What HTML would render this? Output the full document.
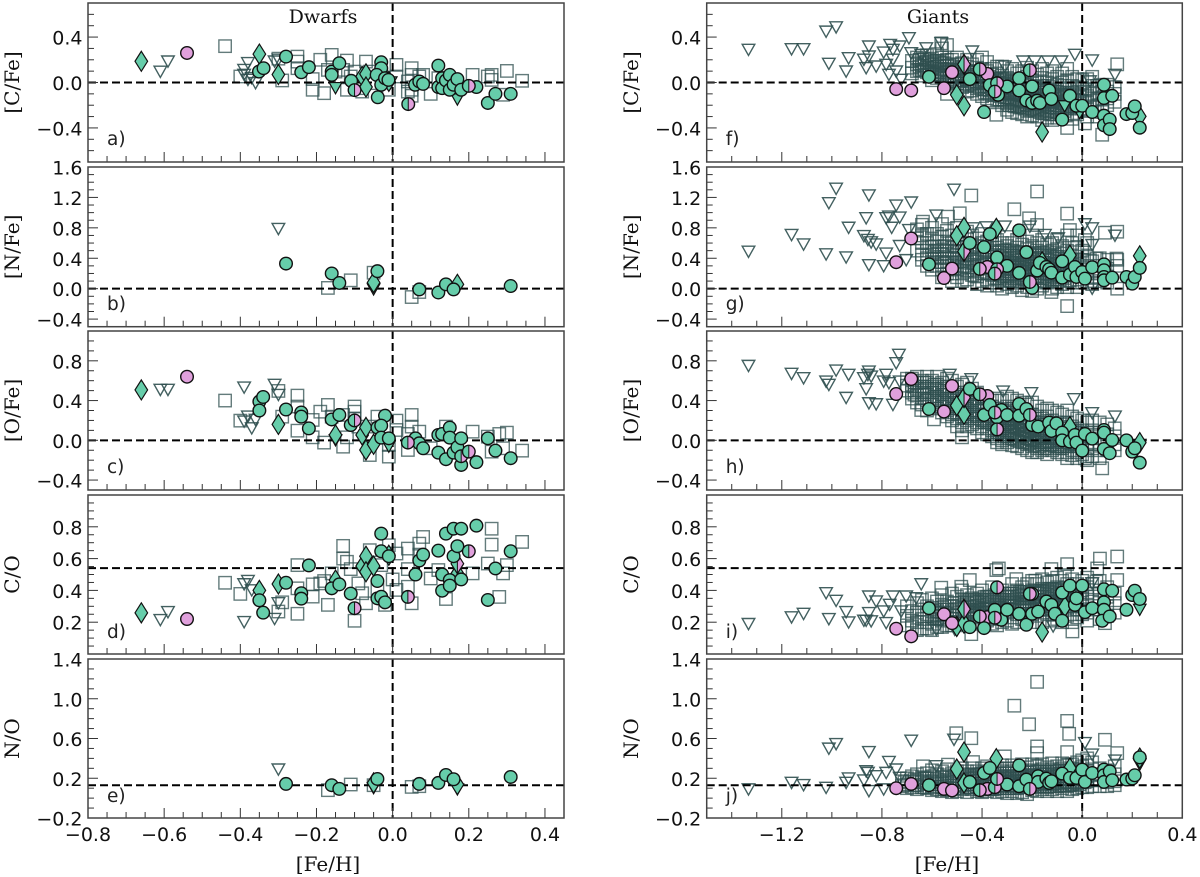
<!DOCTYPE html>
<html lang="en">
<head>
<meta charset="utf-8">
<title>Abundance ratios vs [Fe/H] for dwarfs and giants</title>
<style>
html,body{margin:0;padding:0;background:#fff;width:1200px;height:877px;overflow:hidden}
svg{display:block}
.tk{font-family:"DejaVu Sans","Liberation Sans",sans-serif;font-size:19px;fill:#111}
.lb{font-family:"DejaVu Serif","Liberation Serif",serif;font-size:20px;fill:#111}
.tt{font-family:"DejaVu Serif","Liberation Serif",serif;font-size:19px;fill:#111}
.pl{font-family:"DejaVu Sans","Liberation Sans",sans-serif;font-size:18.5px;fill:#222}
</style>
</head>
<body>
<svg id="figure" xmlns="http://www.w3.org/2000/svg" width="1200" height="877" viewBox="0 0 1200 877"></svg>
<script>
// ---------- tick labels ----------
const dwarfXTicks = [-0.8,-0.6,-0.4,-0.2,0,0.2,0.4];
const giantXTicks = [-1.2,-0.8,-0.4,0,0.4];
const cfeTicks = [-0.4,0,0.4];
const nfeTicks = [-0.4,0,0.4,0.8,1.2,1.6];
const ofeTicks = [-0.4,0,0.4,0.8];
const coTicks = [0.2,0.4,0.6,0.8];
const noTicks = [-0.2,0.2,0.6,1.0,1.4];

// ---------- panel a ----------
const a_squares = [[-.44,.32],[-.4,.053],[-.29,.018],[-.3,.21],[-.25,.228],[-.25,.184],[-.25,.126],[-.21,.03],[-.21,-.064],[-.19,.2],[-.18,-.094],[-.17,.111],[-.16,.243],[-.15,.096],[-.13,.111],[-.12,.193],[-.12,-.064],[-.11,.053],[-.1,.096],[-.09,-.05],[-.08,-.08],[-.07,.184],[-.06,.096],[-.05,-.006],[-.03,.067],[-.01,-.064],[.01,.155],[.01,.053],[.04,.009],[.05,.126],[.05,.067],[.04,-.08],[.05,-.117],[.07,.053],[.08,.067],[.1,-.1],[.21,.067],[.25,.053],[.26,.067],[.26,.023],[.29,-.108],[.3,.102],[.34,.015],[.05,-.064],[.12,.038]];
const a_triangles = [[-.61,.094],[-.59,.184],[-.39,.11],[-.38,.17],[-.39,.067],[-.38,.023],[-.37,.038],[-.36,-.006],[-.31,.184],[-.3,.2]];
const a_circles = [[-.351,.096],[-.339,.126],[-.28,.228],[-.24,.09],[-.22,.135],[-.16,.096],[-.16,.067],[-.14,.17],[-.109,.015],[-.039,-.13],[-.03,.178],[-.03,.126],[-.042,.067],[-.03,-.02],[-.02,.038],[-.011,.023],[.059,-.02],[.07,.009],[.08,-.012],[.12,.149],[.12,-.04],[.13,.038],[.13,-.05],[.14,.018],[.15,.067],[.15,-.064],[.16,-.02],[.17,.03],[.18,-.064],[.22,-.04],[.25,-.18],[.27,-.1],[.31,-.1]];
const a_pink = [[-.54,.26]];
const a_half = [[-.1,-.067],[.041,-.19],[.2,-.03]];
const a_diamonds = [[-.66,.187],[-.35,.25],[-.3,.07],[-.08,.053],[-.07,.076],[-.07,-.04],[-.01,.01]];
const a_halfDiamonds = [];
const a_filledTri = [[-.15,-.05],[.17,-.15],[-.005,0]];

// ---------- panel b ----------
const b_squares = [[-.17,.01],[-.11,.11],[-.05,.21],[.05,-.11],[.07,-.044]];
const b_triangles = [[-.3,.784]];
const b_circles = [[-.28,.33],[-.16,.2],[-.14,.075],[-.04,.23],[.07,-.01],[.12,-.05],[.14,.057],[.16,-.01],[.31,.035]];
const b_pink = [];
const b_half = [];
const b_diamonds = [[-.05,.08],[.17,.057]];
const b_halfDiamonds = [];
const b_filledTri = [[-.05,-.01]];

// ---------- panel c ----------
const c_squares = [[-.44,.4],[-.4,.198],[-.3,.497],[-.29,.238],[-.25,.45],[-.25,.34],[-.25,.097],[-.21,.205],[-.21,.03],[-.19,.288],[-.18,-.023],[-.17,.356],[-.16,.238],[-.13,-.064],[-.13,.255],[-.12,.03],[-.1,.34],[-.1,.288],[-.1,.22],[-.09,.138],[-.06,-.148],[-.05,.138],[-.04,.238],[-.01,-.164],[-.01,-.047],[.01,.198],[.01,.104],[.04,-.097],[.05,.255],[.05,.138],[.04,.064],[.07,.087],[.1,-.08],[.14,.138],[.21,.087],[.26,-.114],[.28,.064],[.3,.077],[.29,-.08],[.34,-.104],[.25,.037]];
const c_triangles = [[-.61,.507],[-.59,.507],[-.39,.53],[-.31,.557],[-.3,.456],[-.39,.188],[-.38,.238],[-.37,.12],[-.36,.205]];
const c_circles = [[-.35,.39],[-.34,.436],[-.35,.3],[-.28,.31],[-.24,.28],[-.24,.238],[-.22,.12],[-.16,.21],[-.14,.255],[-.11,.154],[-.04,.128],[-.02,.248],[-.03,.148],[-.03,.027],[-.01,.02],[.06,.02],[.07,-.03],[.08,-.08],[.12,.054],[.13,.064],[.12,-.124],[.14,-.19],[.15,.128],[.15,.027],[.16,-.124],[.17,-.07],[.18,.02],[.18,-.248],[.22,-.22],[.25,.02],[.27,-.104],[.31,-.18]];
const c_pink = [[-.54,.64]];
const c_half = [[.18,-.16],[-.1,.2],[.04,-.023],[.2,-.114]];
const c_diamonds = [[-.66,.507],[-.3,.16],[-.15,.054],[-.08,.054],[-.07,.13],[-.07,-.097],[-.05,-.04]];
const c_halfDiamonds = [];
const c_filledTri = [[-.15,0],[-.01,-.064]];

// ---------- panel d ----------
const d_squares = [[-.44,.448],[-.4,.378],[-.29,.325],[-.3,.267],[-.25,.559],[-.25,.413],[-.25,.253],[-.21,.438],[-.21,.361],[-.19,.444],[-.18,.459],[-.17,.309],[-.16,.507],[-.13,.68],[-.13,.6],[-.12,.58],[-.11,.534],[-.1,.209],[-.09,.444],[-.08,.382],[-.07,.319],[-.06,.653],[-.04,.403],[-.03,.559],[-.02,.309],[-.01,.684],[0,.469],[.01,.632],[.01,.403],[.04,.663],[.04,.534],[.04,.423],[.05,.319],[.07,.625],[.08,.736],[.07,.694],[.1,.475],[.12,.528],[.14,.346],[.21,.507],[.25,.569],[.26,.788],[.26,.688],[.28,.359],[.29,.507],[.3,.559],[.34,.705]];
const d_triangles = [[-.61,.213],[-.59,.263],[-.39,.2],[-.39,.438],[-.38,.459],[-.31,.22],[-.3,.319],[-.37,.4]];
const d_circles = [[-.34,.26],[-.35,.338],[-.28,.448],[-.24,.382],[-.24,.348],[-.22,.557],[-.16,.413],[-.14,.438],[-.11,.38],[-.04,.459],[-.04,.35],[-.03,.757],[-.03,.646],[-.03,.36],[-.02,.325],[-.01,.615],[.06,.5],[.07,.588],[.08,.625],[.12,.65],[.13,.5],[.13,.398],[.14,.757],[.15,.465],[.15,.43],[.16,.788],[.16,.615],[.17,.678],[.18,.788],[.18,.469],[.22,.807],[.25,.34],[.27,.538],[.31,.646]];
const d_pink = [[-.54,.22]];
const d_half = [[-.1,.288],[.04,.359],[.2,.646]];
const d_diamonds = [[-.66,.259],[-.35,.4],[-.3,.44],[-.15,.465],[-.08,.553],[-.07,.615],[-.07,.517],[-.05,.553],[-.01,.621],[.17,.507]];
const d_halfDiamonds = [[.17,.568]];
const d_filledTri = [];

// ---------- panel e ----------
const e_squares = [[-.17,.08],[-.11,.137],[-.05,.13],[.05,.113],[.07,.12]];
const e_triangles = [[-.3,.287]];
const e_circles = [[-.28,.143],[-.16,.13],[-.14,.093],[-.04,.193],[.07,.143],[.12,.153],[.14,.233],[.16,.19],[.31,.213]];
const e_pink = [];
const e_half = [];
const e_diamonds = [[-.05,.153],[.17,.137]];
const e_halfDiamonds = [];
const e_filledTri = [[-.05,.1],[.17,.087]];

// ---------- panel f ----------
const f_squares = [[-.343,-.284],[-.06,-.4],[.011,-.36],[.08,-.46],[.14,.16],[-.563,.345],[-.54,.33]];
const f_cloud = [[-.68,[.19,.13,.08]],[-.66,[.22,.16,.1]],[-.64,[.2,.15,.11,.06]],[-.62,[.24,.18,.13,.09]],[-.6,[.21,.16,.12,.07,.02]],[-.58,[.25,.19,.14,.09,.04]],[-.56,[.3,.22,.17,.12,.07]],[-.54,[.2,.15,.1,.05,0,-.1]],[-.52,[.2,.16,.11,.06,.01]],[-.5,[.22,.16,.1,.05,-.01,-.05]],[-.48,[.17,.12,.07,.02,-.04]],[-.46,[.2,.14,.09,.03,-.03,-.08]],[-.44,[.16,.1,.05,-.01,-.07]],[-.42,[.2,.13,.07,.01,-.05,-.1]],[-.4,[.22,.12,.06,0,-.06,-.12]],[-.38,[.18,.1,.04,-.03,-.09,-.14]],[-.36,[.12,.07,.01,-.05,-.11,-.16]],[-.34,[.14,.08,.02,-.04,-.1,-.15]],[-.32,[.14,.06,0,-.05,-.1,-.15,-.2]],[-.3,[.1,.04,-.02,-.08,-.13,-.18,-.24]],[-.28,[.12,.03,-.03,-.09,-.14,-.2,-.26]],[-.26,[.08,.02,-.04,-.1,-.15,-.21,-.27]],[-.24,[.1,.03,-.05,-.11,-.16,-.22,-.28]],[-.22,[.13,.05,-.02,-.08,-.14,-.2,-.25,-.3]],[-.2,[.1,.02,-.05,-.11,-.17,-.23,-.29]],[-.18,[.07,0,-.06,-.12,-.18,-.24,-.3]],[-.16,[.12,.04,-.03,-.09,-.15,-.21,-.27,-.33]],[-.14,[.08,0,-.07,-.13,-.19,-.25,-.31]],[-.12,[.1,.03,-.04,-.1,-.16,-.22,-.28,-.33]],[-.1,[.05,-.02,-.08,-.14,-.2,-.26,-.31]],[-.08,[.08,0,-.06,-.12,-.18,-.24,-.29]],[-.06,[.12,.02,-.05,-.11,-.17,-.23,-.28]],[-.04,[.05,-.03,-.09,-.15,-.21,-.27,-.32]],[-.02,[.03,-.04,-.1,-.16,-.22,-.28]],[0,[.02,-.05,-.11,-.17,-.23]],[.02,[.03,-.06,-.12,-.18,-.24,-.3]],[.04,[.05,-.03,-.1,-.16,-.22]],[.06,[-.03,-.09,-.15,-.21,-.3]],[.08,[-.02,-.08,-.14,-.2,-.26]],[.1,[-.02,-.08,-.14,-.2]],[.13,[-.04,-.1,-.17]]];
const f_core = [[-.65,[.2,.17,.14,.11]],[-.63,[.21,.18,.15,.12]],[-.61,[.2,.17,.14,.11,.08]],[-.59,[.19,.16,.13,.1,.07]],[-.57,[.18,.15,.12,.09,.06]],[-.55,[.17,.14,.11,.08,.05]],[-.53,[.15,.12,.09,.06,.03]],[-.51,[.14,.11,.08,.05,.02]],[-.49,[.13,.1,.07,.04,.01]],[-.47,[.11,.08,.05,.02,-.01]],[-.45,[.1,.07,.04,.01,-.02]],[-.43,[.09,.06,.03,0,-.03]],[-.41,[.08,.05,.02,-.01,-.04]],[-.39,[.06,.03,0,-.03,-.06,-.09]],[-.37,[.05,.02,-.01,-.04,-.07,-.1]],[-.35,[.04,.01,-.02,-.05,-.08,-.11]],[-.33,[.03,0,-.03,-.06,-.09,-.12,-.15]],[-.31,[.02,-.01,-.04,-.07,-.1,-.13,-.16]],[-.29,[.01,-.02,-.05,-.08,-.11,-.14,-.17,-.2]],[-.27,[0,-.03,-.06,-.09,-.12,-.15,-.18,-.21]],[-.25,[-.01,-.04,-.07,-.1,-.13,-.16,-.19,-.22]],[-.23,[-.02,-.05,-.08,-.11,-.14,-.17,-.2,-.23]],[-.21,[-.03,-.06,-.09,-.12,-.15,-.18,-.21,-.24]],[-.19,[-.04,-.07,-.1,-.13,-.16,-.19,-.22,-.25]],[-.17,[-.05,-.08,-.11,-.14,-.17,-.2,-.23,-.26]],[-.15,[-.06,-.09,-.12,-.15,-.18,-.21,-.24,-.27]],[-.13,[-.07,-.1,-.13,-.16,-.19,-.22,-.25,-.28]],[-.11,[-.08,-.11,-.14,-.17,-.2,-.23,-.26]],[-.09,[-.09,-.12,-.15,-.18,-.21,-.24,-.27]],[-.07,[-.1,-.13,-.16,-.19,-.22,-.25]],[-.05,[-.11,-.14,-.17,-.2,-.23]],[-.03,[-.12,-.15,-.18,-.21]],[-.01,[-.13,-.16,-.19]]];
const f_triangles = [[-1.333,.287],[-1.161,.292],[-1.113,.292],[-1.023,.447],[-.983,.485],[-1.012,.164],[-.943,.096],[-.933,.213],[-.872,.2],[-.863,.126],[-.852,.316],[-.852,.228],[-.823,.14],[-.793,.263],[-.783,.155],[-.767,.33],[-.772,.067],[-.756,.287],[-.756,.2],[-.743,.096],[-.729,.316],[-.723,.023],[-.692,.389],[-.683,.257],[-.643,.243],[-.623,.3],[-.563,.345],[-.439,.272],[-.309,.14],[-.236,.184],[-.189,.184],[-.136,.184],[-.083,.184],[-.029,.243],[.04,.193],[.131,.067],[.031,.009]];
const f_circles = [[-.612,.05],[-.449,.03],[-.392,-.26],[-.369,-.023],[-.336,-.108],[-.3,-.035],[-.252,.038],[-.252,-.07],[-.223,-.158],[-.2,-.035],[-.2,-.18],[-.18,-.16],[-.169,-.18],[-.132,-.07],[-.123,-.146],[-.08,-.327],[-.049,-.117],[-.023,-.205],[0,-.205],[.04,-.26],[.087,-.02],[.087,-.137],[.087,-.292],[.087,-.377],[.11,-.327],[.11,-.41],[.12,-.117],[.177,-.278],[.2,-.269],[.21,-.21],[.23,-.398]];
const f_pink = [[-.743,-.058],[-.683,-.07],[-.552,-.05],[-.52,.09],[-.379,.076]];
const f_half = [[-.409,.117],[-.34,-.006],[-.349,-.08],[-.209,.108]];
const f_diamonds = [[-.501,-.108],[-.472,-.205],[-.16,-.436],[.23,-.298]];
const f_halfDiamonds = [[-.472,.16]];
const f_filledTri = [[-.07,-.21],[-.01,-.27]];

// ---------- panel g ----------
const g_squares = [[-.443,1.225],[-.18,1.278],[-.271,1.044],[-.06,.987],[-.06,-.229],[-.489,.991],[-.212,.925],[-.18,.837],[-.636,.881],[-.536,.947],[.091,.736],[.14,.749],[.011,.639],[-.049,.771],[-.123,-.044],[.14,0],[.137,.396],[.031,.374],[.057,.396]];
const g_cloud = [[-.66,[.78,.66,.5]],[-.64,[.84,.7,.6,.45,.38]],[-.62,[.72,.6,.5,.4,.3]],[-.6,[.8,.66,.55,.45,.35,.25]],[-.58,[.72,.62,.5,.4,.3]],[-.56,[.85,.68,.55,.45,.35,.25,.15]],[-.54,[.76,.62,.5,.4,.3,.2]],[-.52,[.7,.6,.5,.4,.3,.2,.1]],[-.5,[.8,.65,.55,.45,.35,.25,.15]],[-.48,[.7,.6,.5,.4,.3,.2,.1]],[-.46,[.75,.65,.55,.44,.34,.24,.12]],[-.44,[.7,.58,.48,.38,.28,.18]],[-.42,[.66,.56,.46,.36,.26,.16,.06]],[-.4,[.72,.6,.5,.4,.3,.2,.1]],[-.38,[.62,.52,.42,.32,.22,.12,.04]],[-.36,[.7,.58,.48,.38,.28,.18,.08]],[-.34,[.64,.54,.44,.34,.24,.14,.04]],[-.32,[.6,.5,.4,.3,.2,.1,0]],[-.3,[.68,.56,.46,.36,.26,.16,.06]],[-.28,[.6,.5,.4,.3,.2,.1,.02]],[-.26,[.64,.54,.44,.34,.24,.14,.04]],[-.24,[.58,.48,.38,.28,.18,.08,-.02]],[-.22,[.62,.52,.42,.32,.22,.12,.02]],[-.2,[.7,.56,.46,.36,.26,.16,.06,-.03]],[-.18,[.6,.5,.4,.3,.2,.1,0]],[-.16,[.64,.54,.44,.34,.24,.14,.04]],[-.14,[.58,.48,.38,.28,.18,.08]],[-.12,[.6,.5,.4,.3,.2,.1,0]],[-.1,[.64,.52,.42,.32,.22,.12,.02]],[-.08,[.56,.46,.36,.26,.16,.06]],[-.06,[.7,.5,.4,.3,.2,.1,.02]],[-.04,[.6,.48,.38,.28,.18,.08]],[-.02,[.7,.55,.42,.32,.22,.12,.02]],[0,[.5,.38,.28,.18,.08]],[.02,[.6,.42,.3,.2,.1]],[.04,[.36,.24,.14,.06]],[.07,[.4,.3,.2,.1]],[.1,[.38,.26,.16,.08]],[.14,[.38,.3]]];
const g_core = [[-.59,[.55,.48,.42]],[-.55,[.56,.49,.42,.35]],[-.51,[.55,.48,.41,.34,.27]],[-.47,[.5,.43,.36,.29,.22]],[-.43,[.52,.45,.38,.31,.24,.17]],[-.39,[.48,.41,.34,.27,.2]],[-.35,[.5,.44,.38,.32,.26,.2,.14]],[-.33,[.48,.42,.36,.3,.24,.18,.12]],[-.31,[.5,.44,.38,.32,.26,.2,.14]],[-.29,[.47,.41,.35,.29,.23,.17,.11]],[-.27,[.49,.43,.37,.31,.25,.19,.13]],[-.25,[.46,.4,.34,.28,.22,.16,.1]],[-.23,[.48,.42,.36,.3,.24,.18,.12]],[-.21,[.45,.39,.33,.27,.21,.15,.09]],[-.19,[.47,.41,.35,.29,.23,.17,.11]],[-.17,[.44,.38,.32,.26,.2,.14,.08]],[-.15,[.46,.4,.34,.28,.22,.16,.1]],[-.13,[.43,.37,.31,.25,.19,.13]],[-.11,[.45,.39,.33,.27,.21,.15,.09]],[-.09,[.42,.36,.3,.24,.18,.12]],[-.07,[.38,.32,.26,.2,.14]],[-.05,[.35,.29,.23,.17,.11]],[-.03,[.36,.3,.24,.18]]];
const g_triangles = [[-1.333,.485],[-1.161,.705],[-1.113,.58],[-1.023,.45],[-1.012,1.123],[-.983,1.313],[-.943,.41],[-.933,.8],[-.872,.69],[-.863,.925],[-.852,1.225],[-.852,.308],[-.856,.64],[-.843,.608],[-.823,.58],[-.793,.295],[-.783,.46],[-.783,.925],[-.772,.947],[-.761,.8],[-.743,1.092],[-.729,.934],[-.729,.56],[-.683,1.132],[-.692,.77],[-.703,.374],[-.583,.96],[-.512,1.3],[-.436,.793],[-.383,.806],[-.309,.815],[-.209,.815],[-.149,.705],[-.096,.66],[.011,.846],[.04,.793],[.04,.573],[.131,.696],[.04,0]];
const g_circles = [[-.612,.32],[-.449,.6],[-.392,.546],[-.369,.718],[-.34,.41],[-.3,.3],[-.252,.767],[-.252,.207],[-.223,.48],[-.2,.01],[-.18,.238],[-.169,.339],[-.143,.286],[-.132,.255],[-.123,.21],[-.08,.36],[-.08,.145],[-.049,.185],[-.029,.286],[-.023,.154],[0,.22],[.011,.132],[.04,.282],[.087,.32],[.087,.242],[.087,.154],[.087,.11],[.12,.145],[.177,.154],[.2,.066],[.21,.154],[.23,.273]];
const g_pink = [[-.743,.348],[-.683,.66],[-.552,.14],[-.52,.264],[-.379,.286]];
const g_half = [[-.409,.26],[-.34,.255],[-.349,.198],[-.209,.088]];
const g_diamonds = [[-.501,.696],[-.472,.806],[-.343,.793],[-.16,.352],[-.049,.44],[.23,.432]];
const g_halfDiamonds = [[-.472,.49]];
const g_filledTri = [];

// ---------- panel h ----------
const h_squares = [[-.592,.211],[-.643,.305],[-.48,.03],[.08,-.282],[.011,-.181]];
const h_cloud = [[-.7,[.62,.55,.5]],[-.68,[.62,.56,.48,.42]],[-.66,[.64,.58,.52,.45,.38]],[-.64,[.6,.54,.48,.42,.36]],[-.62,[.64,.58,.52,.46,.4,.3]],[-.6,[.6,.54,.48,.42,.36]],[-.58,[.64,.56,.5,.44,.38,.32]],[-.56,[.58,.52,.46,.4,.34,.28]],[-.54,[.62,.54,.48,.42,.36,.3,.24]],[-.52,[.6,.5,.44,.38,.32,.26,.2]],[-.5,[.54,.46,.4,.34,.28,.22,.14]],[-.48,[.56,.48,.42,.36,.3,.24,.18,.1]],[-.46,[.58,.44,.38,.32,.26,.2,.14]],[-.44,[.52,.46,.4,.34,.28,.22,.16]],[-.42,[.48,.42,.36,.3,.24,.18,.12]],[-.4,[.44,.38,.32,.26,.2,.14,.08]],[-.38,[.42,.36,.3,.24,.18,.12,.06]],[-.36,[.4,.34,.28,.22,.16,.1,.04]],[-.34,[.42,.32,.26,.2,.14,.08,.02,-.02]],[-.32,[.4,.3,.24,.18,.12,.06,0,-.04]],[-.3,[.44,.34,.28,.22,.16,.1,.04,-.02]],[-.28,[.42,.32,.26,.2,.14,.08,.02,-.05]],[-.26,[.4,.3,.24,.18,.12,.06,0,-.06]],[-.24,[.38,.28,.22,.16,.1,.04,-.02,-.08]],[-.22,[.36,.28,.2,.14,.08,.02,-.04,-.1]],[-.2,[.38,.26,.18,.12,.06,0,-.06,-.12]],[-.18,[.34,.24,.16,.1,.04,-.02,-.08,-.12]],[-.16,[.3,.22,.14,.08,.02,-.04,-.1]],[-.14,[.32,.24,.16,.1,.04,-.02,-.08,-.14]],[-.12,[.3,.2,.14,.08,.02,-.04,-.1]],[-.1,[.28,.18,.12,.06,0,-.06,-.12]],[-.08,[.26,.16,.1,.04,-.02,-.08,-.14]],[-.06,[.3,.18,.12,.06,0,-.06,-.12,-.18]],[-.04,[.24,.14,.08,.02,-.04,-.1,-.15]],[-.02,[.22,.12,.06,0,-.06,-.12,-.18]],[0,[.2,.1,.04,-.02,-.08,-.14]],[.02,[.18,.08,.02,-.04,-.1,-.16,-.2]],[.04,[.2,.1,.04,-.02,-.08,-.16]],[.07,[.18,.08,.02,-.04,-.1,-.18]],[.1,[.16,.06,-.02,-.1]],[.13,[.12,.04,-.04,-.1]]];
const h_core = [[-.67,[.58,.54,.5,.46]],[-.63,[.58,.54,.5,.46,.42]],[-.59,[.56,.52,.48,.44,.4]],[-.55,[.54,.5,.46,.42,.38]],[-.51,[.48,.44,.4,.36,.32,.28]],[-.47,[.44,.4,.36,.32,.28,.24]],[-.43,[.42,.38,.34,.3,.26,.22]],[-.39,[.38,.34,.3,.26,.22,.18]],[-.35,[.32,.28,.24,.2,.16,.12,.08]],[-.33,[.3,.26,.22,.18,.14,.1,.06]],[-.31,[.28,.24,.2,.16,.12,.08,.04]],[-.29,[.26,.22,.18,.14,.1,.06,.02]],[-.27,[.25,.21,.17,.13,.09,.05,.01]],[-.25,[.23,.19,.15,.11,.07,.03,-.01]],[-.23,[.22,.18,.14,.1,.06,.02,-.02]],[-.21,[.21,.17,.13,.09,.05,.01,-.03]],[-.19,[.19,.15,.11,.07,.03,-.01,-.05]],[-.17,[.18,.14,.1,.06,.02,-.02,-.06]],[-.15,[.16,.12,.08,.04,0,-.04,-.08]],[-.13,[.15,.11,.07,.03,-.01,-.05]],[-.11,[.14,.1,.06,.02,-.02,-.06]],[-.09,[.12,.08,.04,0,-.04,-.08]],[-.07,[.1,.06,.02,-.02,-.06]],[-.05,[.09,.05,.01,-.03]],[-.03,[.08,.04,0,-.04]]];
const h_triangles = [[-1.333,.748],[-1.161,.668],[-1.113,.624],[-1.023,.59],[-1.012,.557],[-.983,.701],[-.943,.426],[-.933,.658],[-.872,.624],[-.863,.513],[-.852,.691],[-.856,.658],[-.843,.641],[-.852,.372],[-.823,.362],[-.793,.59],[-.783,.658],[-.756,.356],[-.743,.775],[-.732,.859],[-.729,.59],[-.772,.574],[-.529,.658],[-.443,.614],[-.316,.49],[-.203,.473],[-.033,.413],[.04,.272],[.131,.238]];
const h_circles = [[-.612,.315],[-.449,.517],[-.392,.255],[-.369,.356],[-.34,.232],[-.323,.305],[-.3,.255],[-.252,.366],[-.252,.248],[-.223,.315],[-.2,.154],[-.176,.138],[-.132,.178],[-.123,.094],[-.103,.171],[-.08,.077],[-.08,0],[-.049,-.013],[-.029,.054],[-.023,-.023],[0,-.104],[.011,.064],[.04,.017],[.087,.104],[.087,.077],[.087,-.087],[.11,-.13],[.12,.003],[.177,0],[.2,-.114],[.21,-.08],[.23,-.225]];
const h_pink = [[-.743,.466],[-.683,.617],[-.552,.289],[-.52,.547],[-.379,.446]];
const h_half = [[-.409,.463],[-.349,.279],[-.34,.11],[-.209,.255]];
const h_diamonds = [[-.501,.349],[-.472,.262],[-.049,.138],[.23,-.023]];
const h_halfDiamonds = [[-.472,.43]];
const h_filledTri = [[.23,-.047]];

// ---------- panel i ----------
const i_squares = [[-.343,.528],[-.333,.538],[-.123,.534],[-.06,.565],[.06,.538],[.071,.6],[.14,.613],[.14,.465],[-.263,.471],[-.187,.461],[-.563,.417],[-.449,.465],[-.483,.423],[-.443,.125],[-.039,.142],[-.069,.496],[.091,.194],[.057,.455]];
const i_cloud = [[-.7,[.3,.24,.18]],[-.68,[.27,.21,.17]],[-.66,[.32,.26,.2,.15]],[-.64,[.34,.28,.22,.16]],[-.62,[.3,.25,.2,.16]],[-.6,[.35,.29,.24,.19,.15]],[-.58,[.33,.27,.22,.17]],[-.56,[.37,.31,.26,.21,.17]],[-.54,[.33,.28,.23,.18]],[-.52,[.38,.32,.27,.22,.18]],[-.5,[.36,.3,.25,.2]],[-.48,[.4,.34,.29,.24,.19]],[-.46,[.37,.32,.27,.22,.18]],[-.44,[.35,.3,.25,.2]],[-.42,[.38,.33,.28,.23,.19]],[-.4,[.4,.34,.29,.24,.2]],[-.38,[.36,.31,.26,.21]],[-.36,[.42,.33,.28,.23,.19]],[-.34,[.38,.32,.27,.22,.18]],[-.32,[.4,.34,.29,.24,.2]],[-.3,[.36,.31,.26,.21]],[-.28,[.44,.38,.33,.28,.23,.19]],[-.26,[.4,.35,.3,.25,.2]],[-.24,[.42,.37,.32,.27,.22]],[-.22,[.44,.38,.33,.28,.23]],[-.2,[.46,.4,.35,.3,.25,.2]],[-.18,[.44,.39,.34,.29,.24]],[-.16,[.47,.41,.36,.31,.26,.2]],[-.14,[.45,.4,.35,.3,.25]],[-.12,[.46,.41,.36,.31,.26,.21]],[-.1,[.48,.42,.37,.32,.27,.22]],[-.08,[.46,.41,.36,.31,.26,.2]],[-.06,[.44,.39,.34,.29,.24]],[-.04,[.47,.4,.35,.3,.25,.2]],[-.02,[.44,.38,.33,.28,.23]],[0,[.46,.4,.35,.3,.25]],[.02,[.48,.42,.36,.31,.26,.21]],[.04,[.44,.38,.33,.28]],[.07,[.46,.4,.34,.28,.22]],[.1,[.42,.36,.3,.24]],[.13,[.38,.32,.26]]];
const i_core = [[-.59,[.28,.26,.24,.22]],[-.55,[.3,.28,.26,.24,.22]],[-.51,[.32,.3,.28,.26,.24]],[-.47,[.33,.31,.29,.27,.25]],[-.45,[.34,.32,.3,.28,.26]],[-.43,[.34,.32,.3,.28,.26,.24]],[-.41,[.35,.33,.31,.29,.27,.25]],[-.39,[.36,.34,.32,.3,.28,.26]],[-.37,[.36,.34,.32,.3,.28,.26]],[-.35,[.37,.35,.33,.31,.29,.27]],[-.33,[.37,.35,.33,.31,.29,.27]],[-.31,[.38,.36,.34,.32,.3,.28]],[-.29,[.38,.36,.34,.32,.3,.28]],[-.27,[.38,.36,.34,.32,.3,.28]],[-.25,[.39,.37,.35,.33,.31,.29]],[-.23,[.39,.37,.35,.33,.31,.29]],[-.21,[.39,.37,.35,.33,.31,.29]],[-.19,[.4,.38,.36,.34,.32,.3,.28]],[-.17,[.4,.38,.36,.34,.32,.3,.28]],[-.15,[.4,.38,.36,.34,.32,.3,.28]],[-.13,[.41,.39,.37,.35,.33,.31,.29]],[-.11,[.41,.39,.37,.35,.33,.31,.29]],[-.09,[.4,.38,.36,.34,.32,.3]],[-.07,[.4,.38,.36,.34,.32]],[-.05,[.39,.37,.35,.33,.31]],[-.03,[.38,.36,.34,.32,.3]]];
const i_triangles = [[-1.333,.188],[-1.161,.23],[-1.113,.252],[-1.023,.382],[-1.012,.219],[-.983,.334],[-.943,.263],[-.933,.198],[-.872,.209],[-.863,.209],[-.852,.361],[-.852,.257],[-.843,.205],[-.823,.33],[-.793,.267],[-.783,.194],[-.756,.361],[-.769,.309],[-.723,.267],[-.703,.361],[-.643,.438],[-.663,.35],[-.583,.152],[-.509,.152],[-.116,.173],[.04,.444]];
const i_circles = [[-.612,.288],[-.449,.169],[-.392,.163],[-.349,.278],[-.323,.215],[-.3,.278],[-.252,.253],[-.2,.378],[-.223,.184],[-.2,.253],[-.176,.267],[-.143,.33],[-.123,.309],[-.109,.253],[-.08,.386],[-.08,.209],[-.049,.43],[-.029,.309],[-.023,.35],[0,.43],[.011,.263],[.04,.288],[.087,.407],[.087,.325],[.087,.278],[.08,.209],[.11,.236],[.12,.398],[.177,.278],[.2,.371],[.21,.398],[.23,.346]];
const i_pink = [[-.743,.159],[-.683,.111],[-.552,.25],[-.52,.194],[-.379,.232]];
const i_half = [[-.409,.236],[-.349,.228],[-.34,.419],[-.209,.378]];
const i_diamonds = [[-.501,.173],[-.472,.194],[-.16,.138],[-.069,.298]];
const i_halfDiamonds = [[-.472,.282]];
const i_filledTri = [[.23,.278]];

// ---------- panel j ----------
const j_squares = [[-.18,1.17],[-.271,.93],[-.212,.743],[-.06,.777],[-.052,.647],[.091,.587],[-.503,.653],[-.443,.603],[-.18,.52],[-.18,.453],[-.06,.463],[.14,.453],[-.309,.42],[-.06,.07],[-.636,.32],[-.536,.337],[-.436,.363]];
const j_cloud = [[-.72,[.17,.12]],[-.7,[.2,.14,.1]],[-.68,[.22,.17,.11]],[-.66,[.24,.18,.13,.09]],[-.64,[.21,.16,.11]],[-.62,[.25,.2,.15,.1]],[-.6,[.28,.22,.17,.12,.08]],[-.58,[.24,.19,.14,.09]],[-.56,[.27,.21,.16,.11,.07]],[-.54,[.29,.23,.18,.13,.08]],[-.52,[.25,.2,.15,.1,.06]],[-.5,[.27,.22,.17,.12,.07]],[-.48,[.3,.24,.19,.14,.09]],[-.46,[.27,.21,.16,.11,.06]],[-.44,[.3,.24,.19,.14,.09]],[-.42,[.27,.22,.17,.12,.07]],[-.4,[.3,.25,.2,.15,.1,.06]],[-.38,[.32,.26,.21,.16,.11,.07]],[-.36,[.29,.24,.19,.14,.09]],[-.34,[.3,.25,.2,.15,.1,.06]],[-.32,[.33,.27,.22,.17,.12,.07]],[-.3,[.3,.25,.2,.15,.1,.05]],[-.28,[.33,.27,.22,.17,.12,.07]],[-.26,[.3,.25,.2,.15,.1,.05]],[-.24,[.34,.27,.22,.17,.12,.06]],[-.22,[.31,.26,.21,.16,.11,.04]],[-.2,[.34,.28,.23,.18,.13,.08]],[-.18,[.32,.27,.22,.17,.12,.07]],[-.16,[.34,.29,.24,.19,.14,.09]],[-.14,[.31,.26,.21,.16,.11,.07]],[-.12,[.35,.29,.24,.19,.14,.09]],[-.1,[.32,.27,.22,.17,.12,.07]],[-.08,[.35,.3,.25,.2,.15,.1]],[-.06,[.33,.27,.22,.17,.12]],[-.04,[.34,.29,.24,.19,.14,.09]],[-.02,[.36,.3,.25,.2,.15,.1]],[0,[.38,.32,.26,.21,.16,.11]],[.02,[.4,.33,.27,.22,.17,.11]],[.04,[.36,.29,.23,.18,.12]],[.07,[.3,.24,.18,.12]],[.1,[.28,.22,.16,.12]],[.13,[.32,.24,.17,.13]]];
const j_core = [[-.71,[.16,.13]],[-.67,[.19,.16,.13]],[-.63,[.2,.17,.14,.11]],[-.59,[.2,.17,.14,.11]],[-.55,[.21,.18,.15,.12,.09]],[-.51,[.22,.19,.16,.13,.1]],[-.47,[.22,.19,.16,.13,.1]],[-.45,[.23,.2,.17,.14,.11]],[-.43,[.23,.2,.17,.14,.11]],[-.41,[.24,.21,.18,.15,.12,.09]],[-.39,[.24,.21,.18,.15,.12,.09]],[-.37,[.24,.21,.18,.15,.12,.09]],[-.35,[.24,.21,.18,.15,.12,.09]],[-.33,[.25,.22,.19,.16,.13,.1]],[-.31,[.25,.22,.19,.16,.13,.1]],[-.29,[.25,.22,.19,.16,.13,.1]],[-.27,[.25,.22,.19,.16,.13,.1]],[-.25,[.26,.23,.2,.17,.14,.11]],[-.23,[.26,.23,.2,.17,.14,.11]],[-.21,[.26,.23,.2,.17,.14,.11]],[-.19,[.26,.23,.2,.17,.14,.11]],[-.17,[.27,.24,.21,.18,.15,.12]],[-.15,[.27,.24,.21,.18,.15,.12]],[-.13,[.27,.24,.21,.18,.15,.12]],[-.11,[.27,.24,.21,.18,.15,.12]],[-.09,[.28,.25,.22,.19,.16,.13]],[-.07,[.28,.25,.22,.19,.16,.13]],[-.05,[.28,.25,.22,.19,.16,.13]],[-.03,[.28,.25,.22,.19,.16,.13]],[-.01,[.26,.23,.2,.17,.14]],[.01,[.25,.22,.19,.16]]];
const j_triangles = [[-1.333,.087],[-1.161,.153],[-1.113,.13],[-1.023,.103],[-1.012,.497],[-.983,.543],[-.943,.153],[-.933,.197],[-.872,.177],[-.863,.27],[-.852,.463],[-.856,.253],[-.852,.07],[-.823,.22],[-.793,.087],[-.783,.253],[-.772,.363],[-.743,.287],[-.683,.577],[-.583,.32],[-.512,.587],[.011,.553],[.04,.437],[.131,.377],[-.729,.203]];
const j_circles = [[-.612,.13],[-.449,.163],[-.392,.253],[-.369,.303],[-.3,.137],[-.252,.33],[-.252,.12],[-.223,.187],[-.176,.22],[-.176,.163],[-.143,.197],[-.132,.153],[-.123,.17],[-.08,.247],[-.049,.203],[-.023,.203],[0,.287],[.011,.163],[.04,.253],[.087,.287],[.087,.23],[.087,.163],[.11,.27],[.12,.18],[.177,.187],[.2,.197],[.21,.23],[.23,.41]];
const j_pink = [[-.743,.1],[-.683,.143],[-.552,.093],[-.52,.077],[-.379,.093]];
const j_half = [[-.409,.08],[-.349,.11],[-.34,.193],[-.209,.093]];
const j_diamonds = [[-.501,.293],[-.472,.463],[-.343,.397],[-.472,.153],[-.049,.303],[.23,.403]];
const j_halfDiamonds = [];
const j_filledTri = [[.23,.337]];

// ---------- figure assembly ----------
const NS = 'http://www.w3.org/2000/svg';
const svg = document.getElementById('figure');
const GREEN = '#66cdaa', PINK = '#e0a0dc', SLATE = '#2f4f4f';
const CR = 6.3;

function make(parent, tag, attrs) {
  const el = document.createElementNS(NS, tag);
  for (const k in attrs) el.setAttribute(k, attrs[k]);
  parent.appendChild(el);
  return el;
}
function addText(parent, name, cls, x, y, str, anchor, rot) {
  const el = make(parent, 'text', {class: cls, x: x, y: y, 'text-anchor': anchor});
  if (rot) el.setAttribute('transform', 'rotate(-90 ' + x + ' ' + y + ')');
  
  
  el.textContent = str;
  return el;
}
function fmt(v) {
  const s = Math.abs(v).toFixed(1);
  return (v < -1e-9 ? '\u2212' : '') + s;
}
function expandCloud(cloud) {
  const out = [];
  cloud.forEach(function (col) { col[1].forEach(function (y) { out.push([col[0], y]); }); });
  return out;
}

function drawPanel(cfg) {
  const g = make(svg, 'g', {});
  
  
  const W = cfg.x1 - cfg.x0, H = cfg.y1 - cfg.y0;
  const sx = function (v) { return cfg.x0 + (v - cfg.xlim[0]) / (cfg.xlim[1] - cfg.xlim[0]) * W; };
  const sy = function (v) { return cfg.y1 - (v - cfg.ylim[0]) / (cfg.ylim[1] - cfg.ylim[0]) * H; };

  const cid = 'clip-' + cfg.id;
  const cp = make(make(g, 'defs', {}), 'clipPath', {id: cid});
  make(cp, 'rect', {x: cfg.x0, y: cfg.y0, width: W, height: H});
  const plot = make(g, 'g', {'clip-path': 'url(#' + cid + ')'});

  // open squares
  cfg.squares.forEach(function (p) {
    const el = make(plot, 'rect', {x: sx(p[0]) - 6.2, y: sy(p[1]) - 6.2, width: 12.4, height: 12.4, fill: 'none', stroke: SLATE, 'stroke-width': 1.4, 'stroke-opacity': 0.75});
    
    
  });
  // open triangles
  cfg.triangles.forEach(function (p) {
    const X = sx(p[0]), Y = sy(p[1]);
    const el = make(plot, 'polygon', {points: (X - 6.3) + ',' + (Y - 5.6) + ' ' + (X + 6.3) + ',' + (Y - 5.6) + ' ' + X + ',' + (Y + 5.6), fill: 'none', stroke: SLATE, 'stroke-width': 1.4, 'stroke-opacity': 0.9});
    
    
  });
  // reference lines
  const hl = make(plot, 'line', {x1: cfg.x0, x2: cfg.x1, y1: sy(cfg.ref), y2: sy(cfg.ref), stroke: '#000', 'stroke-width': 2, 'stroke-dasharray': '8 4'});
  
  
  const vl = make(plot, 'line', {x1: sx(0), x2: sx(0), y1: cfg.y0, y2: cfg.y1, stroke: '#000', 'stroke-width': 2, 'stroke-dasharray': '8 4'});
  
  

  // filled triangles
  cfg.filledTri.forEach(function (p) {
    const X = sx(p[0]), Y = sy(p[1]);
    const el = make(plot, 'polygon', {points: (X - 6.3) + ',' + (Y - 5.6) + ' ' + (X + 6.3) + ',' + (Y - 5.6) + ' ' + X + ',' + (Y + 5.6), fill: GREEN, stroke: '#111', 'stroke-width': 1.2});
    
    
  });
  // diamonds
  cfg.diamonds.forEach(function (p) {
    const X = sx(p[0]), Y = sy(p[1]);
    const el = make(plot, 'polygon', {points: X + ',' + (Y - 10) + ' ' + (X + 6.3) + ',' + Y + ' ' + X + ',' + (Y + 10) + ' ' + (X - 6.3) + ',' + Y, fill: GREEN, stroke: '#111', 'stroke-width': 1.2});
    
    
  });
  cfg.halfDiamonds.forEach(function (p) {
    const X = sx(p[0]), Y = sy(p[1]);
    const hd = make(plot, 'g', {});
    
    
    make(hd, 'polygon', {points: X + ',' + (Y - 10) + ' ' + X + ',' + (Y + 10) + ' ' + (X - 6.3) + ',' + Y, fill: GREEN});
    make(hd, 'polygon', {points: X + ',' + (Y - 10) + ' ' + (X + 6.3) + ',' + Y + ' ' + X + ',' + (Y + 10), fill: PINK});
    make(hd, 'polygon', {points: X + ',' + (Y - 10) + ' ' + (X + 6.3) + ',' + Y + ' ' + X + ',' + (Y + 10) + ' ' + (X - 6.3) + ',' + Y, fill: 'none', stroke: '#111', 'stroke-width': 1.2});
    make(hd, 'line', {x1: X, x2: X, y1: Y - 10, y2: Y + 10, stroke: '#111', 'stroke-width': 1});
  });
  // pink circles
  cfg.pink.forEach(function (p) {
    const el = make(plot, 'circle', {cx: sx(p[0]), cy: sy(p[1]), r: CR, fill: PINK, stroke: '#111', 'stroke-width': 1.4});
    
    
  });
  // green circles
  cfg.circles.forEach(function (p) {
    const el = make(plot, 'circle', {cx: sx(p[0]), cy: sy(p[1]), r: CR, fill: GREEN, stroke: '#111', 'stroke-width': 1.4});
    
    
  });
  // half filled circles
  cfg.half.forEach(function (p) {
    const X = sx(p[0]), Y = sy(p[1]);
    const hc = make(plot, 'g', {});
    
    
    make(hc, 'path', {d: 'M' + X + ' ' + (Y - CR) + 'A' + CR + ' ' + CR + ' 0 0 0 ' + X + ' ' + (Y + CR) + 'Z', fill: GREEN});
    make(hc, 'path', {d: 'M' + X + ' ' + (Y - CR) + 'A' + CR + ' ' + CR + ' 0 0 1 ' + X + ' ' + (Y + CR) + 'Z', fill: PINK});
    make(hc, 'circle', {cx: X, cy: Y, r: CR, fill: 'none', stroke: '#111', 'stroke-width': 1.4});
    make(hc, 'line', {x1: X, x2: X, y1: Y - CR, y2: Y + CR, stroke: '#111', 'stroke-width': 1});
  });

  // ticks
  const ticks = make(g, 'g', {stroke: '#333', 'stroke-width': 1});
  
  
  for (let v = cfg.yminor[0]; v <= cfg.ylim[1] + 1e-6; v += cfg.yminor[1]) {
    const isMajor = cfg.yticks.some(function (t) { return Math.abs(t - v) < 1e-6; });
    make(ticks, 'line', {x1: cfg.x0, x2: cfg.x0 + (isMajor ? 10 : 6), y1: sy(v), y2: sy(v)});
  }
  for (let v = cfg.xminor[0]; v <= cfg.xlim[1] + 1e-6; v += cfg.xminor[1]) {
    const isMajor = cfg.xticks.some(function (t) { return Math.abs(t - v) < 1e-6; });
    make(ticks, 'line', {x1: sx(v), x2: sx(v), y1: cfg.y1, y2: cfg.y1 - (isMajor ? 10 : 6)});
  }
  // spines
  const frame = make(g, 'rect', {x: cfg.x0, y: cfg.y0, width: W, height: H, fill: 'none', stroke: '#444', 'stroke-width': 1.5});
  
  

  // labels
  cfg.yticks.forEach(function (t) {
    addText(g, 'y-tick-label', 'tk', cfg.x0 - 5.5, sy(t) + 7.5, fmt(t), 'end');
  });
  if (cfg.showX) {
    cfg.xticks.forEach(function (t) {
      addText(g, 'x-tick-label', 'tk', sx(t), 841, fmt(t), 'middle');
    });
    addText(g, 'x-axis-title', 'lb', cfg.xLabelX, 871, '[Fe/H]', 'middle');
  }
  addText(g, 'y-axis-title', 'lb', cfg.yLabelX, (cfg.y0 + cfg.y1) / 2, cfg.ylabel, 'middle', true);
  addText(g, 'panel-letter', 'pl', cfg.x0 + 19, cfg.letterY, cfg.letter, 'start');
  if (cfg.title) addText(g, 'panel-title', 'tt', cfg.titleX, 23, cfg.title, 'middle');
}

const leftX = {x0: 88, x1: 564, xlim: [-0.8, 0.45], xticks: dwarfXTicks, xminor: [-0.8, 0.05], yLabelX: 19, xLabelX: 328};
const rightX = {x0: 706.7, x1: 1182.3, xlim: [-1.5, 0.4], xticks: giantXTicks, xminor: [-1.4, 0.1], yLabelX: 638, xLabelX: 947};

const rows = [
  {y0: 3, y1: 162, ylim: [-0.7, 0.7], ref: 0, yticks: cfeTicks, yminor: [-0.6, 0.1], ylabel: '[C/Fe]', letterY: 145},
  {y0: 167, y1: 326.7, ylim: [-0.5, 1.6], ref: 0, yticks: nfeTicks, yminor: [-0.4, 0.1], ylabel: '[N/Fe]', letterY: 310},
  {y0: 331, y1: 490, ylim: [-0.5, 1.1], ref: 0, yticks: ofeTicks, yminor: [-0.4, 0.1], ylabel: '[O/Fe]', letterY: 473},
  {y0: 495, y1: 654, ylim: [0, 1], ref: 0.54, yticks: coTicks, yminor: [0.05, 0.05], ylabel: 'C/O', letterY: 638},
  {y0: 659, y1: 818, ylim: [-0.2, 1.4], ref: 0.13, yticks: noTicks, yminor: [-0.1, 0.1], ylabel: 'N/O', letterY: 802}
];

const panels = [
  {id: 'a', letter: 'a)', col: leftX, row: 0, squares: a_squares, triangles: a_triangles, circles: a_circles, pink: a_pink, half: a_half, diamonds: a_diamonds, halfDiamonds: a_halfDiamonds, filledTri: a_filledTri, title: 'Dwarfs', titleX: 323},
  {id: 'b', letter: 'b)', col: leftX, row: 1, squares: b_squares, triangles: b_triangles, circles: b_circles, pink: b_pink, half: b_half, diamonds: b_diamonds, halfDiamonds: b_halfDiamonds, filledTri: b_filledTri},
  {id: 'c', letter: 'c)', col: leftX, row: 2, squares: c_squares, triangles: c_triangles, circles: c_circles, pink: c_pink, half: c_half, diamonds: c_diamonds, halfDiamonds: c_halfDiamonds, filledTri: c_filledTri},
  {id: 'd', letter: 'd)', col: leftX, row: 3, squares: d_squares, triangles: d_triangles, circles: d_circles, pink: d_pink, half: d_half, diamonds: d_diamonds, halfDiamonds: d_halfDiamonds, filledTri: d_filledTri},
  {id: 'e', letter: 'e)', col: leftX, row: 4, squares: e_squares, triangles: e_triangles, circles: e_circles, pink: e_pink, half: e_half, diamonds: e_diamonds, halfDiamonds: e_halfDiamonds, filledTri: e_filledTri, showX: true},
  {id: 'f', letter: 'f)', col: rightX, row: 0, squares: f_squares.concat(expandCloud(f_cloud), expandCloud(f_core)), triangles: f_triangles, circles: f_circles, pink: f_pink, half: f_half, diamonds: f_diamonds, halfDiamonds: f_halfDiamonds, filledTri: f_filledTri, title: 'Giants', titleX: 938},
  {id: 'g', letter: 'g)', col: rightX, row: 1, squares: g_squares.concat(expandCloud(g_cloud), expandCloud(g_core)), triangles: g_triangles, circles: g_circles, pink: g_pink, half: g_half, diamonds: g_diamonds, halfDiamonds: g_halfDiamonds, filledTri: g_filledTri},
  {id: 'h', letter: 'h)', col: rightX, row: 2, squares: h_squares.concat(expandCloud(h_cloud), expandCloud(h_core)), triangles: h_triangles, circles: h_circles, pink: h_pink, half: h_half, diamonds: h_diamonds, halfDiamonds: h_halfDiamonds, filledTri: h_filledTri},
  {id: 'i', letter: 'i)', col: rightX, row: 3, squares: i_squares.concat(expandCloud(i_cloud), expandCloud(i_core)), triangles: i_triangles, circles: i_circles, pink: i_pink, half: i_half, diamonds: i_diamonds, halfDiamonds: i_halfDiamonds, filledTri: i_filledTri},
  {id: 'j', letter: 'j)', col: rightX, row: 4, squares: j_squares.concat(expandCloud(j_cloud), expandCloud(j_core)), triangles: j_triangles, circles: j_circles, pink: j_pink, half: j_half, diamonds: j_diamonds, halfDiamonds: j_halfDiamonds, filledTri: j_filledTri, showX: true}
];

panels.forEach(function (p) {
  drawPanel(Object.assign({}, p.col, rows[p.row], p));
});
</script>
</body>
</html>
